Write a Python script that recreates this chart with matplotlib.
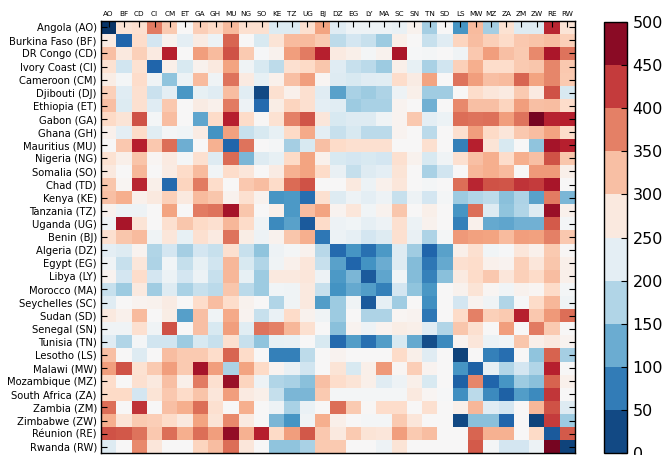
import numpy as np
import matplotlib
matplotlib.use("Agg")
import matplotlib.pyplot as plt

row_labels = ["Angola (AO)", "Burkina Faso (BF)", "DR Congo (CD)", "Ivory Coast (CI)",
              "Cameroon (CM)", "Djibouti (DJ)", "Ethiopia (ET)", "Gabon (GA)", "Ghana (GH)",
              "Mauritius (MU)", "Nigeria (NG)", "Somalia (SO)", "Chad (TD)", "Kenya (KE)",
              "Tanzania (TZ)", "Uganda (UG)", "Benin (BJ)", "Algeria (DZ)", "Egypt (EG)",
              "Libya (LY)", "Morocco (MA)", "Seychelles (SC)", "Sudan (SD)", "Senegal (SN)",
              "Tunisia (TN)", "Lesotho (LS)", "Malawi (MW)", "Mozambique (MZ)",
              "South Africa (ZA)", "Zambia (ZM)", "Zimbabwe (ZW)", "Réunion (RE)", "Rwanda (RW)"]
col_labels = ["AO", "BF", "CD", "CI", "CM", "ET", "GA", "GH", "MU", "NG", "SO", "KE", "TZ",
              "UG", "BJ", "DZ", "EG", "LY", "MA", "SC", "SN", "TN", "SD", "LS", "MW", "MZ",
              "ZA", "ZM", "ZW", "RE", "RW"]
cbar_ticks = [0, 50, 100, 150, 200, 250, 300, 350, 400, 450, 500]

values = [
    [5, 285, 290, 380, 315, 250, 312, 300, 330, 290, 290, 215, 215, 290, 350, 220, 238, 238, 238, 232, 260, 165, 250, 102, 330, 165, 288, 218, 218, 440, 285],
    [270, 50, 295, 205, 260, 225, 270, 235, 395, 250, 210, 285, 330, 330, 315, 185, 205, 193, 160, 265, 250, 193, 220, 305, 328, 310, 298, 318, 322, 328, 310],
    [325, 275, 310, 272, 445, 250, 355, 330, 410, 315, 248, 260, 355, 380, 445, 272, 265, 245, 260, 455, 248, 245, 250, 240, 318, 355, 325, 315, 370, 455, 385],
    [288, 200, 288, 50, 265, 210, 260, 275, 350, 240, 210, 185, 290, 300, 320, 220, 193, 182, 160, 265, 230, 168, 200, 310, 340, 295, 295, 315, 320, 372, 318],
    [268, 245, 295, 240, 150, 235, 330, 240, 385, 272, 230, 262, 325, 355, 255, 218, 210, 220, 222, 295, 270, 350, 250, 385, 355, 325, 330, 395, 350, 372, 315],
    [310, 220, 290, 195, 225, 105, 230, 220, 328, 222, 25, 290, 262, 290, 220, 115, 168, 160, 172, 238, 265, 162, 162, 250, 295, 280, 272, 315, 272, 410, 210],
    [325, 215, 290, 220, 318, 250, 270, 262, 380, 238, 55, 268, 305, 290, 225, 222, 160, 168, 168, 258, 250, 130, 250, 370, 325, 325, 305, 355, 325, 328, 295],
    [300, 285, 410, 245, 328, 250, 118, 298, 445, 298, 252, 288, 375, 408, 280, 210, 218, 218, 240, 258, 318, 225, 235, 390, 385, 388, 355, 385, 490, 442, 445],
    [262, 225, 298, 222, 245, 242, 270, 100, 352, 193, 210, 230, 300, 345, 225, 193, 210, 182, 182, 258, 250, 182, 250, 290, 355, 300, 280, 318, 328, 350, 295],
    [250, 318, 445, 318, 390, 128, 250, 338, 50, 385, 250, 245, 165, 210, 325, 298, 290, 290, 290, 250, 250, 290, 250, 80, 445, 285, 210, 250, 150, 458, 445],
    [288, 265, 322, 255, 272, 245, 290, 218, 392, 135, 218, 230, 300, 350, 262, 210, 205, 210, 205, 290, 260, 210, 240, 290, 325, 340, 295, 340, 325, 410, 320],
    [275, 250, 333, 250, 270, 298, 330, 242, 295, 280, 250, 270, 338, 350, 298, 232, 190, 218, 225, 285, 250, 168, 200, 250, 333, 340, 330, 250, 358, 358, 265],
    [320, 255, 440, 265, 55, 305, 380, 295, 250, 318, 328, 298, 392, 410, 250, 250, 275, 235, 262, 280, 250, 245, 250, 390, 440, 410, 407, 430, 425, 456, 250],
    [325, 340, 262, 275, 310, 275, 330, 320, 260, 290, 260, 102, 107, 60, 290, 218, 238, 225, 238, 193, 238, 205, 245, 160, 175, 185, 145, 172, 115, 380, 135],
    [260, 238, 238, 250, 350, 250, 380, 385, 458, 320, 250, 265, 107, 328, 350, 258, 280, 242, 260, 320, 250, 265, 250, 102, 390, 218, 150, 175, 218, 465, 262],
    [240, 457, 285, 250, 290, 320, 300, 290, 333, 298, 240, 90, 115, 40, 298, 238, 242, 228, 238, 290, 235, 260, 250, 80, 262, 122, 118, 130, 130, 403, 245],
    [290, 320, 330, 240, 280, 230, 290, 272, 385, 268, 238, 260, 320, 340, 70, 235, 228, 205, 218, 290, 232, 172, 245, 358, 352, 350, 330, 355, 352, 375, 318],
    [225, 218, 258, 175, 205, 165, 205, 193, 290, 193, 150, 238, 245, 260, 180, 55, 102, 62, 107, 218, 162, 50, 115, 265, 290, 242, 248, 280, 262, 315, 252],
    [240, 193, 280, 172, 242, 190, 230, 200, 333, 210, 175, 240, 262, 280, 193, 115, 50, 100, 125, 218, 142, 70, 122, 290, 295, 262, 258, 310, 280, 320, 265],
    [258, 205, 295, 205, 235, 205, 235, 193, 333, 230, 160, 275, 275, 280, 238, 107, 135, 40, 118, 242, 142, 82, 145, 272, 298, 318, 280, 310, 298, 328, 265],
    [193, 160, 275, 162, 218, 168, 193, 182, 320, 182, 160, 242, 240, 275, 193, 100, 122, 110, 80, 205, 150, 105, 250, 260, 285, 255, 242, 260, 255, 298, 245],
    [220, 250, 258, 260, 270, 250, 295, 328, 295, 260, 250, 175, 240, 275, 110, 160, 240, 40, 228, 162, 250, 97, 250, 205, 258, 240, 175, 248, 298, 333, 240],
    [275, 262, 330, 250, 268, 112, 325, 240, 345, 258, 193, 233, 298, 260, 240, 160, 250, 172, 172, 255, 258, 70, 250, 298, 375, 310, 315, 445, 318, 358, 390],
    [240, 240, 290, 240, 410, 250, 325, 210, 355, 222, 385, 375, 333, 290, 250, 145, 258, 238, 258, 268, 265, 220, 175, 320, 290, 250, 355, 250, 380, 315, 250],
    [220, 175, 245, 200, 200, 160, 210, 193, 290, 193, 150, 230, 232, 250, 210, 55, 110, 62, 110, 210, 122, 28, 90, 258, 280, 235, 242, 320, 265, 275, 258],
    [325, 250, 218, 250, 328, 315, 315, 295, 395, 298, 250, 80, 80, 185, 250, 258, 250, 250, 250, 298, 265, 220, 250, 18, 250, 80, 60, 250, 150, 398, 165],
    [355, 410, 288, 315, 355, 315, 458, 355, 170, 350, 300, 258, 232, 200, 250, 285, 210, 265, 358, 255, 312, 258, 250, 102, 45, 228, 175, 205, 175, 445, 250],
    [295, 250, 290, 275, 325, 265, 380, 290, 465, 305, 238, 175, 168, 145, 325, 295, 285, 265, 220, 238, 265, 210, 250, 45, 372, 50, 102, 160, 145, 398, 262],
    [300, 300, 205, 285, 318, 298, 322, 280, 355, 272, 265, 190, 135, 135, 315, 245, 245, 245, 245, 245, 275, 255, 248, 97, 182, 90, 45, 110, 90, 428, 250],
    [390, 250, 430, 250, 325, 340, 390, 290, 250, 340, 250, 238, 168, 233, 250, 390, 315, 252, 295, 295, 250, 290, 250, 265, 333, 220, 205, 250, 333, 410, 218],
    [340, 285, 315, 312, 298, 275, 350, 285, 370, 272, 250, 135, 102, 240, 340, 265, 250, 245, 245, 315, 280, 250, 250, 25, 145, 145, 50, 250, 18, 425, 160],
    [410, 405, 385, 318, 390, 340, 390, 355, 470, 338, 445, 300, 355, 405, 318, 275, 315, 285, 280, 355, 315, 328, 250, 250, 395, 338, 338, 250, 300, 40, 403],
    [218, 250, 370, 280, 250, 250, 305, 328, 390, 280, 250, 150, 150, 168, 315, 315, 250, 250, 238, 285, 250, 250, 250, 250, 403, 245, 205, 205, 235, 490, 18],
]

data = np.array(values, dtype=float)

fig = plt.figure(figsize=(6.66, 4.55), dpi=100)
ax = fig.add_axes([101 / 666, 1.7 / 455, 474 / 666, 432.6 / 455])
cax = fig.add_axes([604 / 666, 1.7 / 455, 23 / 666, 431.5 / 455])

mesh = ax.pcolormesh(data, cmap="RdBu_r", vmin=0, vmax=500)
ax.set_xlim(0, len(col_labels))
ax.set_ylim(len(row_labels), 0)

ax.xaxis.tick_top()
ax.set_xticks(np.arange(len(col_labels)) + 0.5)
ax.set_xticklabels(col_labels, fontsize=5.2)
ax.set_yticks(np.arange(len(row_labels)) + 0.5)
ax.set_yticklabels(row_labels, fontsize=7.2)
ax.tick_params(axis="x", which="major", direction="in", length=4, width=0.8,
               top=True, bottom=False, pad=3, color="black")
ax.tick_params(axis="y", which="major", direction="in", length=4, width=0.8,
               left=True, right=True, pad=3, color="black")
for s in ax.spines.values():
    s.set_linewidth(1.0)

cb = fig.colorbar(mesh, cax=cax, boundaries=np.linspace(0, 500, 11), ticks=cbar_ticks)
cb.ax.tick_params(direction="in", length=4, width=0.8, labelsize=11.5, pad=4, color="black")
cb.outline.set_linewidth(1.0)

fig.savefig("out.png", dpi=100)
